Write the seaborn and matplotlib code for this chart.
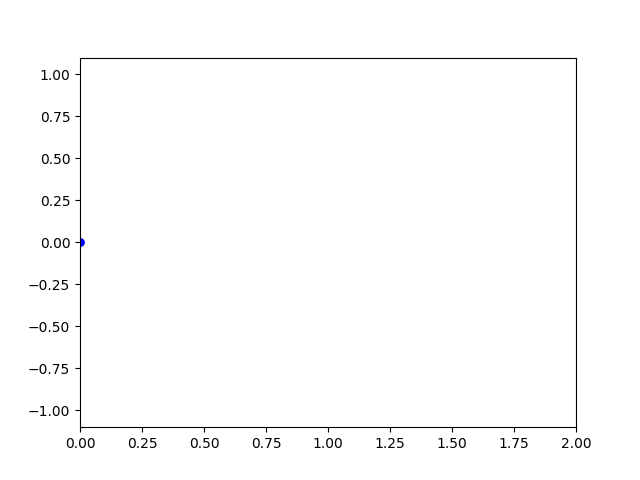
import matplotlib
matplotlib.use('Agg')
import seaborn as sns
from matplotlib import pyplot as plt

# single point (first frame of a wave)
x_vals = [0.0]
y_vals = [0.0]

fig, ax = plt.subplots(figsize=(6.4, 4.8), dpi=100)
sns.scatterplot(x=x_vals, y=y_vals, ax=ax, color='blue', s=40, edgecolor='blue', linewidth=0, clip_on=True)
ax.set_xlim(0, 2)
ax.set_ylim(-1.1, 1.1)

plt.savefig('out.png')
